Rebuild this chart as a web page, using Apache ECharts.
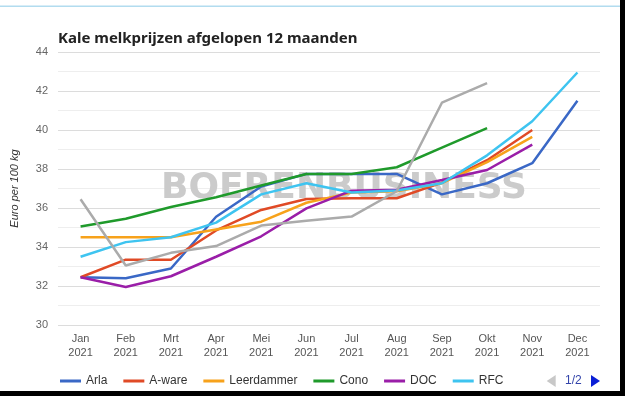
<!DOCTYPE html>
<html>
<head>
<meta charset="utf-8">
<script src="https://cdn.jsdelivr.net/npm/echarts@6/dist/echarts.min.js"></script>
<style>html,body{margin:0;padding:0;background:#fff;}#c{width:625px;height:396px;}</style>
</head>
<body>
<div id="c"></div>
<script>
var months = ['Jan','Feb','Mrt','Apr','Mei','Jun','Jul','Aug','Sep','Okt','Nov','Dec'];
var year = '2021';
var seriesNames = ['Arla','A-ware','Leerdammer','Cono','DOC','RFC','FrieslandCampina'];
var arla       = [32.45, 32.4, 32.9, 35.55, 37.1, 37.75, 37.75, 37.75, 36.7, 37.27, 38.3, 41.5];
var aware      = [32.45, 33.35, 33.35, 34.85, 35.9, 36.46, 36.5, 36.5, 37.3, 38.45, 40.0, null];
var leerdammer = [34.5, 34.5, 34.5, 34.9, 35.3, 36.27, 36.79, 36.86, 37.27, 38.35, 39.65, null];
var cono       = [35.05, 35.45, 36.05, 36.55, 37.15, 37.74, 37.74, 38.09, 39.1, 40.1, null, null];
var doc        = [32.45, 31.95, 32.5, 33.5, 34.55, 35.98, 36.89, 36.94, 37.44, 37.95, 39.25, null];
var rfc        = [33.5, 34.25, 34.5, 35.25, 36.7, 37.27, 36.79, 36.9, 37.27, 38.7, 40.45, 42.95];
var other      = [36.45, 33.05, 33.7, 34.05, 35.1, 35.35, 35.56, 36.86, 41.4, 42.4, null, null];
var yTicks = {min: 30, max: 44, interval: 2};
var colors = ['#3a68c6','#e04a26','#f7a21b','#1f9a2b','#9a1ea8','#3ec4f0','#ababab'];

var dataSets = [arla, aware, leerdammer, cono, doc, rfc, other];
var chart = echarts.init(document.getElementById('c'), null, {renderer: 'canvas'});
var series = dataSets.map(function (d, i) {
  return {
    name: seriesNames[i], type: 'line', data: d, symbol: 'none', showSymbol: false,
    lineStyle: {width: 2.5, color: colors[i]}, itemStyle: {color: colors[i]},
    z: 3
  };
});
chart.setOption({
  animation: false,
  backgroundColor: '#ffffff',
  title: {
    text: 'Kale melkprijzen afgelopen 12 maanden',
    left: 53, top: 26,
    textStyle: {fontFamily: 'Noto Sans', fontWeight: 'bold', fontSize: 15, color: '#222'}
  },
  legend: {
    type: 'scroll', left: 55, top: 370, width: 540,
    icon: 'rect', itemWidth: 21, itemHeight: 3, itemGap: 16,
    textStyle: {fontFamily: 'Liberation Sans', fontSize: 12, color: '#333'},
    pageIcons: {horizontal: ['M0,0L9,-6L9,6z', 'M0,0L-9,-6L-9,6z']},
    pageIconSize: [9, 12], pageButtonItemGap: 4, pageButtonGap: 40,
    pageIconColor: '#0a1fd6', pageIconInactiveColor: '#c8c8c8',
    pageTextStyle: {color: '#3344aa', fontFamily: 'Liberation Sans', fontSize: 12},
    data: seriesNames
  },
  grid: {left: 58, right: 25, top: 52, bottom: 71, containLabel: false},
  xAxis: {
    type: 'category', data: months, boundaryGap: true,
    axisLine: {show: false}, axisTick: {show: false},
    axisLabel: {
      formatter: function (v) { return v + '\n' + year; },
      fontFamily: 'Liberation Sans', fontSize: 11, color: '#555', lineHeight: 14, margin: 7
    }
  },
  yAxis: {
    type: 'value', min: yTicks.min, max: yTicks.max, interval: yTicks.interval,
    name: 'Euro per 100 kg', nameLocation: 'middle', nameRotate: 90, nameGap: 38,
    nameTextStyle: {fontFamily: 'Liberation Sans', fontStyle: 'italic', fontSize: 11, color: '#333'},
    axisLine: {show: false}, axisTick: {show: false},
    axisLabel: {fontFamily: 'Liberation Sans', fontSize: 11, color: '#666', margin: 10},
    splitLine: {lineStyle: {color: '#dcdcdc', width: 1}},
    minorTick: {show: false, splitNumber: 2},
    minorSplitLine: {show: true, lineStyle: {color: '#eeeeee', width: 1}}
  },
  graphic: [
    {type: 'text', x: 344, y: 189, z: 1, silent: true,
     style: {text: 'BOERENBUSINESS', fill: '#cbcbcb', font: 'bold 36px "DejaVu Sans"',
             align: 'center', verticalAlign: 'middle'}},
    {type: 'rect', shape: {x: 0, y: 5.5, width: 620, height: 1.5}, style: {fill: '#b2dcef'}, z: 10, silent: true},
    {type: 'rect', shape: {x: 620, y: 0, width: 5, height: 396}, style: {fill: '#000'}, z: 10, silent: true},
    {type: 'rect', shape: {x: 0, y: 391, width: 625, height: 5}, style: {fill: '#000'}, z: 10, silent: true}
  ],
  series: series
});
</script>
</body>
</html>
